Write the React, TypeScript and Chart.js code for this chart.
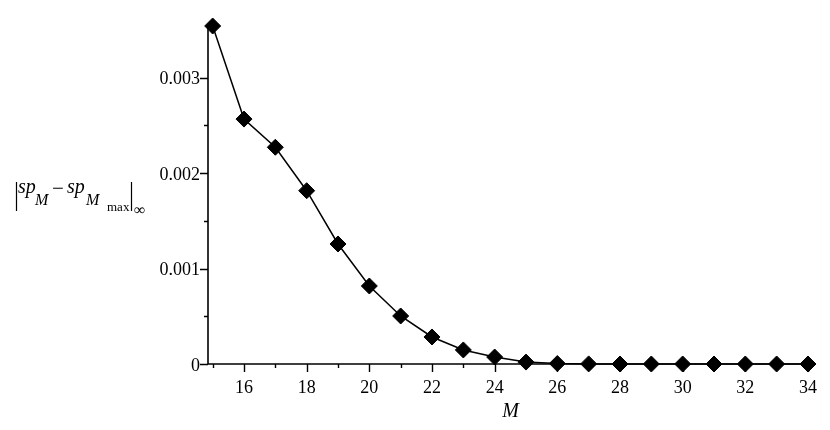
import React, { useEffect, useRef } from "react";
import { Chart, registerables } from "chart.js";

Chart.register(...registerables);

const mValues = [15, 16, 17, 18, 19, 20, 21, 22, 23, 24, 25, 26, 27, 28, 29, 30, 31, 32, 33, 34];
const errValues = [
  0.00354, 0.002565, 0.00227, 0.001815, 0.001257, 0.000817, 0.000503, 0.000283,
  0.000147, 0.000073, 0.00002, 0.000005, 0.000001, 0, 0, 0, 0, 0, 0, 0,
];
const xMajorTicks = [16, 18, 20, 22, 24, 26, 28, 30, 32, 34];
const xMajorLabels = ["16", "18", "20", "22", "24", "26", "28", "30", "32", "34"];
const xMinorTicks = [15, 17, 19, 21, 23, 25, 27, 29, 31, 33];
const yMajorTicks = [0, 0.001, 0.002, 0.003];
const yMajorLabels = ["0", "0.001", "0.002", "0.003"];
const yMinorTicks = [0.0005, 0.0015, 0.0025];
const xTitle = "M";

const SERIF = '"Liberation Serif", "Times New Roman", serif';

const axesPlugin = {
  id: "mapleAxes",
  beforeDatasetsDraw(chart: any) {
    const { ctx, chartArea: a } = chart;
    const xs = chart.scales.x;
    const ys = chart.scales.y;
    ctx.save();
    ctx.strokeStyle = "#000";
    ctx.lineWidth = 1.6;
    ctx.beginPath();
    ctx.moveTo(a.left, a.top);
    ctx.lineTo(a.left, a.bottom);
    ctx.lineTo(a.right, a.bottom);
    ctx.stroke();
    ctx.lineWidth = 1.4;
    ctx.beginPath();
    xMajorTicks.forEach((v) => {
      const px = Math.round(xs.getPixelForValue(v)) + 0.5;
      ctx.moveTo(px, a.bottom);
      ctx.lineTo(px, a.bottom + 8);
    });
    xMinorTicks.forEach((v) => {
      const px = Math.round(xs.getPixelForValue(v)) + 0.5;
      ctx.moveTo(px, a.bottom);
      ctx.lineTo(px, a.bottom + 4);
    });
    yMajorTicks.forEach((v) => {
      const py = Math.round(ys.getPixelForValue(v)) + 0.5;
      ctx.moveTo(a.left, py);
      ctx.lineTo(a.left - 8, py);
    });
    yMinorTicks.forEach((v) => {
      const py = Math.round(ys.getPixelForValue(v)) + 0.5;
      ctx.moveTo(a.left, py);
      ctx.lineTo(a.left - 4, py);
    });
    ctx.stroke();

    ctx.fillStyle = "#000";
    ctx.font = `18px ${SERIF}`;
    ctx.textAlign = "center";
    ctx.textBaseline = "alphabetic";
    xMajorTicks.forEach((v, i) => {
      ctx.fillText(xMajorLabels[i], xs.getPixelForValue(v), a.bottom + 29);
    });
    ctx.textAlign = "right";
    yMajorTicks.forEach((v, i) => {
      ctx.fillText(yMajorLabels[i], a.left - 8, ys.getPixelForValue(v) + 6.5);
    });

    // x-axis title
    ctx.textAlign = "center";
    ctx.font = `italic 20px ${SERIF}`;
    ctx.fillText(xTitle, (a.left + a.right) / 2, a.bottom + 53);

    // y-axis title: |sp_M - sp_{M_max}|_inf
    ctx.textAlign = "left";
    ctx.lineWidth = 1.2;
    ctx.beginPath();
    ctx.moveTo(16.5, 182);
    ctx.lineTo(16.5, 211);
    ctx.moveTo(131.5, 182);
    ctx.lineTo(131.5, 211);
    ctx.stroke();
    ctx.font = `italic 20px ${SERIF}`;
    ctx.fillText("sp", 18, 193);
    ctx.fillText("sp", 67, 193);
    ctx.font = `italic 16px ${SERIF}`;
    ctx.fillText("M", 35, 205);
    ctx.fillText("M", 86, 205);
    ctx.font = `21px ${SERIF}`;
    ctx.fillText("\u2212", 52, 195);
    ctx.font = `13px ${SERIF}`;
    ctx.fillText("max", 107, 211);
    ctx.font = `16px ${SERIF}`;
    ctx.fillText("\u221E", 134, 215);
    ctx.restore();
  },
};

export default function App() {
  const ref = useRef<HTMLCanvasElement | null>(null);
  useEffect(() => {
    document.body.style.margin = "0";
    const canvas = ref.current;
    if (!canvas) return;
    const chart = new Chart(canvas, {
      type: "line",
      data: {
        datasets: [
          {
            data: mValues.map((m, i) => ({ x: m, y: errValues[i] })),
            borderColor: "#000",
            borderWidth: 1.5,
            backgroundColor: "#000",
            pointBackgroundColor: "#000",
            pointBorderColor: "#000",
            pointStyle: "rectRot",
            pointRadius: 8,
            pointBorderWidth: 1,
            tension: 0,
            clip: false as any,
          },
        ],
      },
      options: {
        animation: false,
        responsive: false,
        devicePixelRatio: 1,
        layout: { padding: { left: 0, right: 17, top: 26, bottom: 0 } },
        plugins: { legend: { display: false }, tooltip: { enabled: false } },
        scales: {
          x: {
            type: "linear",
            min: 14.851,
            max: 34.16,
            grid: { display: false },
            border: { display: false },
            ticks: { display: false },
            afterFit: (s: any) => {
              s.height = 66;
            },
          },
          y: {
            type: "linear",
            min: 0,
            max: 0.00354,
            grid: { display: false },
            border: { display: false },
            ticks: { display: false },
            afterFit: (s: any) => {
              s.width = 208;
            },
          },
        },
      },
      plugins: [axesPlugin],
    });
    return () => chart.destroy();
  }, []);
  return (
    <div style={{ width: 830, height: 430 }}>
      <canvas ref={ref} width={830} height={430} style={{ display: "block" }} />
    </div>
  );
}
